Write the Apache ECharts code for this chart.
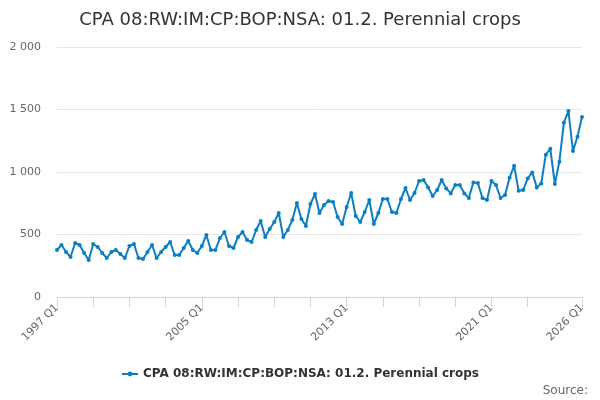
<!DOCTYPE html>
<html>
<head>
<meta charset="utf-8">
<script src="https://cdn.jsdelivr.net/npm/echarts@6/dist/echarts.min.js"></script>
<style>
html, body { margin: 0; padding: 0; background: #fff; }
#chart { width: 600px; height: 400px; }
</style>
</head>
<body>
<div id="chart"></div>
<script>
// quarters 1997 Q1 .. 2026 Q1
var years = [];
for (var y = 1997; y <= 2026; y++) years.push(y);
var quarters = [];
years.forEach(function (y) {
    for (var q = 1; q <= 4; q++) {
        if (y === 2026 && q > 1) break;
        quarters.push(y + ' Q' + q);
    }
});

var values = [
    376, 416, 360, 320,   // 1997
    432, 416, 352, 296,   // 1998
    424, 400, 352, 312,   // 1999
    360, 376, 344, 312,   // 2000
    408, 424, 312, 304,   // 2001
    360, 416, 312, 360,   // 2002
    400, 440, 336, 336,   // 2003
    392, 448, 376, 352,   // 2004
    408, 496, 376, 376,   // 2005
    472, 520, 408, 392,   // 2006
    480, 520, 456, 440,   // 2007
    536, 608, 480, 544,   // 2008
    600, 672, 480, 536,   // 2009
    616, 752, 624, 568,   // 2010
    744, 824, 672, 736,   // 2011
    768, 760, 640, 584,   // 2012
    720, 832, 648, 600,   // 2013
    680, 776, 584, 672,   // 2014
    784, 784, 680, 672,   // 2015
    784, 872, 776, 832,   // 2016
    928, 936, 877, 808,   // 2017
    856, 936, 869, 829,   // 2018
    896, 896, 829, 792,   // 2019
    917, 912, 792, 776,   // 2020
    928, 896, 792, 816,   // 2021
    955, 1050, 850, 856,  // 2022
    949, 997, 877, 909,   // 2023
    1139, 1186, 904, 1083, // 2024
    1395, 1488, 1168, 1283, // 2025
    1440                  // 2026
];

var seriesName = 'CPA 08:RW:IM:CP:BOP:NSA: 01.2. Perennial crops';

var chart = echarts.init(document.getElementById('chart'));
var lastIdx = quarters.length - 1;

option = {
    animation: false,
    title: {
        text: seriesName,
        left: 'center',
        top: 6,
        textStyle: { fontFamily: 'DejaVu Sans', fontSize: 18, fontWeight: 'normal', color: '#333333' }
    },
    grid: { left: 57, right: 18, top: 47, bottom: 103 },
    xAxis: {
        type: 'category',
        data: quarters,
        boundaryGap: false,
        axisLine: { lineStyle: { color: '#ccd6eb' } },
        axisTick: {
            length: 10,
            lineStyle: { color: '#ccd6eb' },
            interval: function (i) { return (i % 8 === 0 && i <= 104) || i === lastIdx; }
        },
        axisLabel: {
            rotate: 45,
            margin: 9,
            color: '#666666',
            fontFamily: 'DejaVu Sans',
            fontSize: 11,
            interval: function (i) { return i % 32 === 0 || i === lastIdx; }
        },
        splitLine: { show: false }
    },
    yAxis: {
        type: 'value',
        min: 0,
        max: 2000,
        interval: 500,
        axisLine: { show: false },
        axisTick: { show: false },
        axisLabel: {
            color: '#666666',
            fontFamily: 'DejaVu Sans',
            fontSize: 11,
            margin: 16,
            formatter: function (v) { return String(v).replace(/\B(?=(\d{3})+(?!\d))/g, ' '); }
        },
        splitLine: { lineStyle: { color: '#e6e6e6' } }
    },
    legend: {
        bottom: 15,
        left: 'center',
        itemWidth: 16,
        itemHeight: 6,
        textStyle: { fontFamily: 'DejaVu Sans', fontSize: 12, fontWeight: 'bold', color: '#333333' },
        data: [seriesName]
    },
    graphic: [{
        type: 'text',
        right: 12,
        bottom: 3,
        style: { text: 'Source:', fontFamily: 'DejaVu Sans', fontSize: 12, fill: '#666666' }
    }],
    series: [{
        name: seriesName,
        type: 'line',
        data: values,
        symbol: 'circle',
        symbolSize: 4,
        showAllSymbol: true,
        lineStyle: { width: 2, color: '#0b7fc4' },
        itemStyle: { color: '#0b7fc4' }
    }]
};
chart.setOption(option);
</script>
</body>
</html>
